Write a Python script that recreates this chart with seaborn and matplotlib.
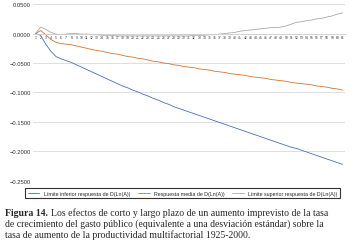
import numpy as np
import pandas as pd
import matplotlib
matplotlib.use("Agg")
import matplotlib.pyplot as plt
import seaborn as sns

periods = list(range(1, 62))

lower = [0.000, -0.003, -0.018, -0.030, -0.039, -0.043, -0.046, -0.049, -0.053, -0.057,
         -0.061, -0.065, -0.069, -0.073, -0.077, -0.081, -0.085, -0.089, -0.092, -0.096,
         -0.099, -0.103, -0.106, -0.110, -0.113, -0.117, -0.120, -0.124, -0.127, -0.130,
         -0.133, -0.136, -0.139, -0.142, -0.145, -0.148, -0.151, -0.154, -0.157, -0.160,
         -0.163, -0.166, -0.169, -0.172, -0.175, -0.178, -0.181, -0.184, -0.187, -0.190,
         -0.193, -0.195, -0.198, -0.201, -0.204, -0.207, -0.210, -0.213, -0.216, -0.219,
         -0.222]

mean = [0.000, 0.005, -0.002, -0.010, -0.015, -0.017, -0.018, -0.019, -0.021, -0.023,
        -0.025, -0.027, -0.029, -0.030, -0.032, -0.034, -0.035, -0.037, -0.039, -0.040,
        -0.042, -0.043, -0.045, -0.047, -0.048, -0.050, -0.051, -0.053, -0.054, -0.056,
        -0.057, -0.058, -0.060, -0.061, -0.062, -0.064, -0.065, -0.066, -0.068, -0.069,
        -0.070, -0.071, -0.073, -0.074, -0.075, -0.076, -0.078, -0.079, -0.080, -0.081,
        -0.083, -0.084, -0.085, -0.086, -0.087, -0.089, -0.090, -0.091, -0.093, -0.094,
        -0.096]

upper = [0.000, 0.011, 0.007, 0.002, -0.001, -0.002, -0.001, 0.000, 0.000, -0.001,
         -0.001, -0.002, -0.002, -0.003, -0.003, -0.003, -0.004, -0.004, -0.004, -0.004,
         -0.004, -0.004, -0.004, -0.004, -0.004, -0.004, -0.004, -0.004, -0.004, -0.004,
         -0.004, -0.003, -0.003, -0.003, -0.002, -0.002, -0.001, 0.000, 0.001, 0.002,
         0.004, 0.005, 0.006, 0.007, 0.008, 0.009, 0.010, 0.010, 0.011, 0.013,
         0.016, 0.019, 0.020, 0.022, 0.023, 0.025, 0.026, 0.028, 0.030, 0.033,
         0.035]

series_names = ["Límite inferior respuesta de D(Ln(A))",
                "Respuesta media de D(Ln(A))",
                "Límite superior respuesta de D(Ln(A))"]
colors = ["#4A6FBE", "#D2742F", "#A8A8A8"]
y_ticks = [0.05, 0.0, -0.05, -0.10, -0.15, -0.20, -0.25]

df = pd.concat([
    pd.DataFrame({"periodo": periods, "valor": vals, "serie": name})
    for name, vals in zip(series_names, [lower, mean, upper])
], ignore_index=True)

sns.set_style("white")
plt.rcParams["font.family"] = ["Liberation Sans", "DejaVu Sans"]

fig = plt.figure(figsize=(3.58, 2.53), dpi=100)
ax = fig.add_axes([0.092, 0.281, 0.872, 0.699])

sns.lineplot(data=df, x="periodo", y="valor", hue="serie", palette=colors,
             hue_order=series_names, linewidth=0.6, ax=ax, legend=True)

ax.spines["bottom"].set_position(("data", 0))
ax.spines["bottom"].set_color("#D0D0D0")
ax.spines["bottom"].set_linewidth(0.6)
for s in ["left", "right", "top"]:
    ax.spines[s].set_visible(False)

ax.set_xlim(0.5, 61.5)
ax.set_ylim(-0.25, 0.05)
ax.set_yticks(y_ticks)
ax.set_yticklabels([f"{v:.4f}".replace("-", "\u2212") for v in y_ticks])
ax.set_xticks(periods)
ax.set_xticklabels([str(p) for p in periods])
ax.tick_params(axis="y", length=0, pad=1.5, labelsize=4.2, labelcolor="#333333")
ax.tick_params(axis="x", length=0, pad=1.2, labelsize=2.4, labelcolor="#333333")
ax.yaxis.grid(True, color="#D9D9D9", linewidth=0.6)
ax.xaxis.grid(False)
ax.set_axisbelow(True)
ax.set_xlabel("")
ax.set_ylabel("")

handles, labels = ax.get_legend_handles_labels()
ax.get_legend().remove()
leg = fig.legend(handles, labels, loc="center", bbox_to_anchor=(0.51, 0.233), ncol=3,
                 fontsize=3.8, frameon=True, handlelength=2.2, columnspacing=1.5,
                 borderpad=0.5, fancybox=False, edgecolor="black")
leg.get_frame().set_linewidth(0.8)

cap_font = ["Liberation Serif", "DejaVu Serif"]
fs = 7.0
fig.text(0.014, 0.158, "Figura 14.", fontsize=fs, fontweight="bold", family=cap_font, va="center")
fig.text(0.143, 0.158, "Los efectos de corto y largo plazo de un aumento imprevisto de la tasa",
         fontsize=fs, family=cap_font, va="center")
fig.text(0.014, 0.115, "de crecimiento del gasto público (equivalente a una desviación estándar) sobre la",
         fontsize=fs, family=cap_font, va="center")
fig.text(0.014, 0.072, "tasa de aumento de la productividad multifactorial 1925-2000.",
         fontsize=fs, family=cap_font, va="center")

fig.savefig("out.png", dpi=100)
